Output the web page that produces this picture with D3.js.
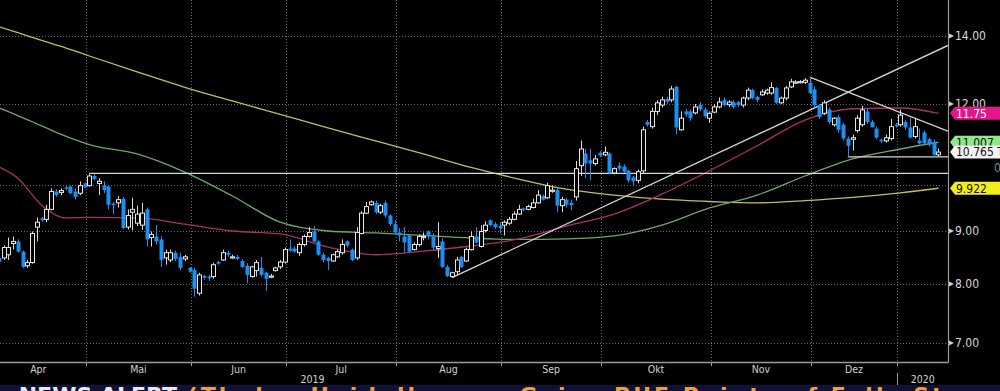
<!DOCTYPE html>
<html>
<head>
<meta charset="utf-8">
<script src="https://cdn.jsdelivr.net/npm/d3@7"></script>
<style>
  body { margin: 0; background: #000; }
  svg { display: block; }
</style>
</head>
<body>
<div id="chart"></div>
<script>
// time axis: months and their trading days (Jan only up to the last candle)
var monthLabels = ["Apr", "Mai", "Jun", "Jul", "Aug", "Sep", "Okt", "Nov", "Dez", ""];
var monthDays = [20, 22, 20, 23, 22, 21, 23, 21, 18, 9];
var yearLabels = ["2019", "2020"];

// daily candles, [open, high, low, close]
var apr = [
  [8.48, 8.54, 8.35, 8.41], [8.48, 8.72, 8.44, 8.68], [8.54, 8.88, 8.44, 8.68], [8.76, 8.90, 8.64, 8.80],
  [8.80, 8.84, 8.58, 8.60], [8.60, 8.62, 8.29, 8.31], [8.33, 8.44, 8.29, 8.39], [8.39, 9.00, 8.37, 8.96],
  [9.09, 9.29, 8.80, 9.19], [9.27, 9.30, 9.20, 9.23], [9.25, 9.56, 9.19, 9.46], [9.46, 9.92, 9.44, 9.85],
  [9.85, 9.90, 9.73, 9.77], [9.83, 9.92, 9.77, 9.87], [9.94, 9.98, 9.88, 9.92], [9.96, 9.98, 9.79, 9.81],
  [9.85, 9.92, 9.67, 9.73], [9.81, 10.08, 9.77, 9.98], [10.03, 10.05, 9.92, 9.94]
];
var mai = [
  [9.98, 10.26, 9.96, 10.20], [10.20, 10.25, 10.10, 10.13], [10.03, 10.15, 9.77, 10.08], [9.98, 10.08, 9.81, 9.88],
  [9.96, 9.98, 9.46, 9.56], [9.58, 9.62, 9.36, 9.55], [9.60, 9.75, 9.50, 9.67], [9.69, 9.73, 9.05, 9.07],
  [9.09, 9.46, 9.04, 9.33], [9.40, 9.71, 9.02, 9.46], [9.17, 9.54, 9.11, 9.36], [9.13, 9.60, 9.03, 9.38],
  [9.46, 9.50, 8.70, 8.84], [8.88, 9.00, 8.70, 8.94], [8.90, 9.13, 8.74, 8.80], [8.84, 8.90, 8.31, 8.44],
  [8.48, 8.64, 8.35, 8.58], [8.44, 8.64, 8.40, 8.58], [8.58, 8.62, 8.42, 8.46], [8.50, 8.58, 8.25, 8.29],
  [8.46, 8.54, 8.42, 8.50], [8.29, 8.31, 8.20, 8.22]
];
var jun = [
  [8.25, 8.29, 7.77, 7.91], [7.83, 8.20, 7.79, 8.16], [8.14, 8.16, 8.07, 8.11], [8.13, 8.16, 8.05, 8.10],
  [8.13, 8.39, 8.09, 8.35], [8.40, 8.42, 8.35, 8.37], [8.44, 8.64, 8.42, 8.58], [8.58, 8.62, 8.50, 8.54],
  [8.48, 8.54, 8.46, 8.50], [8.50, 8.54, 8.44, 8.46], [8.42, 8.46, 8.29, 8.31], [8.33, 8.38, 8.01, 8.16],
  [8.13, 8.33, 8.11, 8.31], [8.24, 8.44, 8.13, 8.39], [8.29, 8.50, 8.13, 8.16], [8.20, 8.22, 7.87, 8.09],
  [8.12, 8.18, 8.10, 8.14], [8.24, 8.31, 8.22, 8.29], [8.31, 8.44, 8.27, 8.40], [8.40, 8.68, 8.37, 8.64]
];
var jul = [
  [8.66, 8.84, 8.60, 8.62], [8.66, 8.70, 8.58, 8.60], [8.58, 8.78, 8.52, 8.74], [8.74, 8.94, 8.70, 8.90],
  [8.90, 9.09, 8.88, 8.98], [9.00, 9.11, 8.78, 8.80], [8.80, 8.82, 8.52, 8.54], [8.54, 8.58, 8.39, 8.44],
  [8.48, 8.50, 8.25, 8.42], [8.42, 8.56, 8.40, 8.54], [8.50, 8.64, 8.48, 8.60], [8.58, 8.84, 8.54, 8.74],
  [8.80, 8.82, 8.68, 8.72], [8.64, 8.66, 8.42, 8.44], [8.48, 9.09, 8.44, 8.98], [8.96, 9.42, 8.94, 9.38],
  [9.38, 9.62, 9.36, 9.52], [9.56, 9.65, 9.54, 9.62], [9.60, 9.65, 9.36, 9.40], [9.40, 9.58, 9.36, 9.54],
  [9.60, 9.65, 9.29, 9.33], [9.33, 9.36, 9.11, 9.15], [9.15, 9.23, 8.94, 8.98]
];
var aug = [
  [8.98, 9.07, 8.80, 8.92], [8.90, 9.09, 8.58, 8.78], [8.92, 8.94, 8.58, 8.60], [8.64, 8.78, 8.62, 8.74],
  [8.74, 8.94, 8.70, 8.90], [8.88, 8.98, 8.82, 8.90], [9.00, 9.02, 8.84, 8.90], [8.90, 8.96, 8.64, 8.68],
  [8.66, 9.19, 8.48, 8.70], [8.80, 8.86, 8.29, 8.31], [8.31, 8.35, 8.12, 8.14], [8.13, 8.22, 8.11, 8.20],
  [8.22, 8.50, 8.16, 8.44], [8.50, 8.52, 8.29, 8.31], [8.42, 8.68, 8.40, 8.64], [8.64, 9.00, 8.62, 8.90],
  [8.90, 9.09, 8.76, 8.78], [8.70, 9.13, 8.68, 9.00], [9.02, 9.21, 8.98, 9.13], [9.23, 9.25, 9.11, 9.13],
  [9.15, 9.19, 9.05, 9.09], [9.11, 9.19, 8.96, 9.07]
];
var sep = [
  [9.13, 9.23, 8.92, 9.19], [9.17, 9.30, 9.13, 9.25], [9.25, 9.42, 9.23, 9.36], [9.36, 9.56, 9.34, 9.46],
  [9.48, 9.50, 9.42, 9.45], [9.46, 9.56, 9.44, 9.52], [9.50, 9.69, 9.48, 9.60], [9.60, 9.88, 9.58, 9.77],
  [9.75, 9.78, 9.65, 9.67], [9.71, 10.05, 9.69, 9.98], [9.86, 9.98, 9.82, 9.88], [9.88, 9.94, 9.40, 9.54],
  [9.54, 9.73, 9.40, 9.67], [9.67, 9.71, 9.50, 9.56], [9.60, 9.67, 9.44, 9.55], [9.73, 10.55, 9.65, 10.37],
  [10.44, 11.05, 10.20, 10.84], [10.73, 10.84, 10.15, 10.49], [10.57, 10.85, 10.10, 10.49], [10.49, 10.69, 10.44, 10.60],
  [10.75, 10.79, 10.64, 10.68]
];
var okt = [
  [10.70, 10.90, 10.66, 10.76], [10.73, 10.76, 10.24, 10.27], [10.27, 10.40, 10.24, 10.37], [10.44, 10.52, 10.32, 10.37],
  [10.42, 10.47, 10.27, 10.30], [10.32, 10.35, 10.05, 10.10], [10.17, 10.20, 9.99, 10.08], [10.10, 10.35, 10.03, 10.30],
  [10.32, 11.40, 10.27, 11.32], [11.52, 11.57, 11.40, 11.45], [11.40, 11.90, 11.35, 11.80], [11.80, 12.10, 11.70, 12.03],
  [11.97, 12.20, 11.90, 12.11], [12.14, 12.20, 12.00, 12.06], [12.11, 12.50, 12.05, 12.41], [12.47, 12.50, 11.20, 11.38],
  [11.32, 11.80, 11.30, 11.62], [11.80, 11.87, 11.65, 11.72], [11.80, 11.85, 11.55, 11.62], [11.76, 12.00, 11.72, 11.92],
  [11.97, 12.05, 11.80, 11.85], [11.85, 11.90, 11.62, 11.67], [11.62, 11.80, 11.50, 11.75]
];
var nov = [
  [11.78, 12.00, 11.75, 11.92], [11.92, 12.18, 11.88, 12.05], [12.11, 12.18, 11.93, 11.97], [11.98, 12.10, 11.92, 12.05],
  [12.05, 12.10, 11.88, 11.92], [12.05, 12.08, 11.92, 11.97], [11.97, 12.20, 11.90, 12.16], [12.16, 12.45, 12.10, 12.38],
  [12.38, 12.42, 12.12, 12.16], [12.19, 12.22, 12.05, 12.11], [12.25, 12.40, 12.22, 12.33], [12.30, 12.42, 12.25, 12.38],
  [12.30, 12.60, 12.25, 12.45], [12.44, 12.47, 12.00, 12.03], [12.03, 12.20, 12.00, 12.16], [12.16, 12.50, 12.10, 12.44],
  [12.47, 12.70, 12.44, 12.61], [12.58, 12.66, 12.55, 12.61], [12.60, 12.66, 12.57, 12.62], [12.60, 12.72, 12.55, 12.66],
  [12.58, 12.75, 12.27, 12.30]
];
var dez = [
  [12.40, 12.48, 11.90, 11.97], [11.97, 12.00, 11.60, 11.65], [11.75, 12.10, 11.70, 12.03], [11.85, 11.90, 11.47, 11.52],
  [11.45, 11.65, 11.40, 11.62], [11.65, 11.70, 11.25, 11.32], [11.45, 11.50, 11.05, 11.10], [11.10, 11.15, 10.65, 10.92],
  [11.08, 11.20, 10.80, 11.12], [11.30, 11.70, 11.25, 11.62], [11.45, 11.95, 11.40, 11.84], [11.80, 11.88, 11.47, 11.52],
  [11.52, 11.57, 11.40, 11.38], [11.35, 11.40, 11.08, 11.12], [11.07, 11.10, 10.98, 11.03], [11.04, 11.20, 11.00, 11.12],
  [11.10, 11.60, 11.05, 11.40], [11.45, 11.50, 11.38, 11.42]
];
var jan = [
  [11.45, 11.85, 11.40, 11.70], [11.52, 11.57, 11.32, 11.38], [11.38, 11.62, 11.10, 11.12], [11.15, 11.60, 11.10, 11.40],
  [11.05, 11.35, 10.95, 10.98], [11.25, 11.30, 10.95, 10.98], [11.08, 11.12, 10.90, 10.95], [11.02, 11.08, 10.65, 10.70],
  [10.70, 10.85, 10.65, 10.765]
];
var candleMonths = [apr, mai, jun, jul, aug, sep, okt, nov, dez, jan];

// price axis
var priceTicks = [7, 8, 9, 12, 14];
var gridTicks = [7, 8, 9, 10, 12, 14];

// moving averages, every few trading days
var maDays = [0, 5, 10, 15, 20, 30, 40, 50, 60, 70, 80, 90, 100, 110, 120, 130, 140, 150, 160, 170, 180, 190, 198];
var maYellow = [14.33, 14.09, 13.85, 13.62, 13.37, 12.90, 12.46, 12.08, 11.72, 11.37, 11.04, 10.72, 10.40, 10.13, 9.90, 9.77, 9.68, 9.63, 9.60, 9.65, 9.72, 9.82, 9.922];
var maGreen = [11.95, 11.69, 11.42, 11.16, 10.95, 10.72, 10.29, 9.75, 9.19, 9.01, 8.97, 8.92, 8.87, 8.84, 8.85, 8.91, 9.13, 9.49, 9.77, 10.20, 10.60, 10.84, 11.007];
var maMagenta = [10.46, 10.15, 9.55, 9.28, 9.29, 9.28, 9.15, 9.01, 8.95, 8.69, 8.54, 8.61, 8.71, 8.85, 9.11, 9.36, 9.79, 10.32, 10.92, 11.57, 11.87, 11.89, 11.75];

// hand-drawn lines, [trading day, price]
var upTrend = [[96, 8.11], [190, 13.02]];
var downTrend = [[171, 12.75], [198, 11.38]];
var resistance = [20, 10.26];
var support = [179, 10.65];

var newsHead = "\u25B8 NEWS ALERT";
var newsText = "(Thales Heidelberger Gains PUF Points of Falls St";

var width = 1000, height = 391,
    axisX = 948, axisY = 362,
    slotW = 4.77;

var svg = d3.select("#chart").append("svg")
    .attr("width", width)
    .attr("height", height)
    .style("background-color", "#000");

var font = "'Liberation Sans Narrow', 'DejaVu Sans Condensed', sans-serif";

var totalDays = d3.sum(monthDays);
var x = d3.scaleLinear().domain([0, totalDays]).range([-9.4, -9.4 + totalDays * slotW]);
var y = d3.scaleLog().domain([6.705, 15.17]).range([axisY, 0]);

// flatten candles onto trading-day slots
var monthStart = [0];
monthDays.forEach(function(d, i) { monthStart.push(monthStart[i] + d); });
var candles = [];
candleMonths.forEach(function(arr, m) {
  var first = monthStart[m] + monthDays[m] - arr.length;
  arr.forEach(function(c, i) {
    candles.push({day: first + i, o: c[0], h: c[1], l: c[2], c: c[3]});
  });
});
function cx(day) { return x(day + 0.5) + 1; }

var defs = svg.append("defs");
defs.append("clipPath").attr("id", "plotclip")
  .append("rect").attr("x", 0).attr("y", 0).attr("width", axisX).attr("height", axisY);
defs.append("clipPath").attr("id", "newsclip")
  .append("rect").attr("x", 0).attr("y", 385).attr("width", width).attr("height", 6);

// grid
var grid = svg.append("g");
grid.selectAll(".hgrid").data(gridTicks).enter().append("line")
    .attr("x1", 0).attr("x2", axisX)
    .attr("y1", function(d) { return Math.round(y(d)) + 0.5; })
    .attr("y2", function(d) { return Math.round(y(d)) + 0.5; })
    .style("stroke", "#6a6a6a").style("stroke-dasharray", "1,2");
grid.selectAll(".vgrid").data(monthStart.slice(1, monthStart.length - 1)).enter().append("line")
    .attr("x1", function(d) { return Math.round(x(d)) + 0.5; })
    .attr("x2", function(d) { return Math.round(x(d)) + 0.5; })
    .attr("y1", 0).attr("y2", axisY)
    .style("stroke", "#6a6a6a").style("stroke-dasharray", "1,2");

var plot = svg.append("g").attr("clip-path", "url(#plotclip)");

// moving averages
function maLine(vals, color) {
  var pts = maDays.map(function(d, i) { return [cx(d), y(vals[i])]; });
  plot.append("path")
    .attr("d", d3.line().curve(d3.curveMonotoneX)(pts))
    .style("fill", "none").style("stroke", color).style("stroke-width", 1.3);
}
maLine(maYellow, "#c2bd62");
maLine(maGreen, "#6fa56a");
maLine(maMagenta, "#a8306a");

// trend lines, extended to the price axis
function extendLine(a, b) {
  var x1 = cx(a[0]), y1 = y(a[1]), x2 = cx(b[0]), y2 = y(b[1]);
  var k = (y2 - y1) / (x2 - x1);
  plot.append("line")
    .attr("x1", x1).attr("y1", y1)
    .attr("x2", axisX).attr("y2", y1 + k * (axisX - x1))
    .style("stroke", "#d6d6d6").style("stroke-width", 1.3);
}
extendLine(upTrend[0], upTrend[1]);
extendLine(downTrend[0], downTrend[1]);
[resistance, support].forEach(function(r) {
  plot.append("line")
    .attr("x1", cx(r[0])).attr("x2", axisX)
    .attr("y1", y(r[1])).attr("y2", y(r[1]))
    .style("stroke", "#d6d6d6").style("stroke-width", 1.3);
});

// candles
var blue = "#1f8ef1";
var cg = plot.append("g").selectAll("g").data(candles).enter().append("g");
cg.append("line")
    .attr("x1", function(d) { return Math.round(cx(d.day)) + 0.5; })
    .attr("x2", function(d) { return Math.round(cx(d.day)) + 0.5; })
    .attr("y1", function(d) { return y(d.h); })
    .attr("y2", function(d) { return y(d.l); })
    .style("stroke", function(d) { return d.c >= d.o ? "#d8d8d8" : blue; })
    .style("stroke-width", 1);
cg.append("rect")
    .attr("x", function(d) { return Math.round(cx(d.day)) - 1.5; })
    .attr("width", 4)
    .attr("y", function(d) { return y(Math.max(d.o, d.c)); })
    .attr("height", function(d) { return Math.max(1.2, Math.abs(y(d.o) - y(d.c))); })
    .style("fill", function(d) { return d.c >= d.o ? "#000" : blue; })
    .style("stroke", function(d) { return d.c >= d.o ? "#e6e6e6" : "none"; })
    .style("stroke-width", 1);

// axes
svg.append("line").attr("x1", 0).attr("x2", axisX + 0.5).attr("y1", axisY + 0.5).attr("y2", axisY + 0.5)
    .style("stroke", "#9a9a9a").style("stroke-width", 1.5);
svg.append("line").attr("x1", axisX + 0.5).attr("x2", axisX + 0.5).attr("y1", 0).attr("y2", axisY + 0.5)
    .style("stroke", "#9a9a9a").style("stroke-width", 1.2);

var yt = svg.append("g").selectAll("g").data(priceTicks).enter().append("g")
    .attr("transform", function(d) { return "translate(" + axisX + "," + Math.round(y(d)) + ")"; });
yt.append("path").attr("d", "M1,-2.5L6,0L1,2.5Z").style("fill", "#d0d0d0");
yt.append("text")
    .attr("x", 7).attr("y", 0).attr("dy", "0.35em")
    .text(function(d) { return d3.format(".2f")(d); })
    .style("fill", "#d8d8d8").style("font-size", "12px").style("font-family", font);

// month ticks and labels
var xt = svg.append("g");
xt.selectAll("line").data(monthStart.slice(1, monthStart.length - 1)).enter().append("line")
    .attr("x1", function(d) { return Math.round(x(d)) + 0.5; })
    .attr("x2", function(d) { return Math.round(x(d)) + 0.5; })
    .attr("y1", axisY).attr("y2", axisY + 4)
    .style("stroke", "#9a9a9a");
xt.selectAll("text").data(monthLabels).enter().append("text")
    .attr("x", function(d, i) { return x(monthStart[i] + monthDays[i] / 2); })
    .attr("y", 373)
    .attr("text-anchor", "middle")
    .text(function(d) { return d; })
    .style("fill", "#d0d0d0").style("font-size", "10.5px").style("font-family", font);

var janStart = Math.round(x(monthStart[9])) + 0.5;
svg.append("line").attr("x1", janStart).attr("x2", janStart).attr("y1", 373).attr("y2", 385)
    .style("stroke", "#9a9a9a");
svg.append("text").attr("x", x(67.5)).attr("y", 383).attr("text-anchor", "middle")
    .text(yearLabels[0]).style("fill", "#d0d0d0").style("font-size", "10.5px").style("font-family", font);
svg.append("text").attr("x", (janStart + axisX) / 2).attr("y", 383).attr("text-anchor", "middle")
    .text(yearLabels[1]).style("fill", "#d0d0d0").style("font-size", "10.5px").style("font-family", font);

// value tags on the price axis
var last = candles[candles.length - 1].c;
var tags = [
  {v: maYellow[maYellow.length - 1], t: "9.922", bg: "#f4ef1a", fg: "#111"},
  {v: maMagenta[maMagenta.length - 1], t: "11.75", bg: "#e5168c", fg: "#fff"},
  {v: maGreen[maGreen.length - 1], t: "11.007", bg: "#8fe88a", fg: "#111"},
  {v: last, t: "10.765 TUI1", bg: "#f4f4f4", fg: "#111"}
];
var tg = svg.append("g").selectAll("g").data(tags).enter().append("g")
    .attr("transform", function(d) { return "translate(0," + y(d.v) + ")"; });
tg.append("path")
    .attr("d", "M950,0L955,-6.5L1000,-6.5L1000,6.5L955,6.5Z")
    .style("fill", function(d) { return d.bg; });
tg.append("text")
    .attr("x", 956).attr("dy", "0.36em")
    .text(function(d) { return d.t; })
    .style("fill", function(d) { return d.fg; })
    .style("font-size", "12px").style("font-family", font);
svg.append("text").attr("x", 994).attr("y", 172).text("0")
    .style("fill", "#8a8a8a").style("font-size", "12px").style("font-family", font);

// news ticker strip at the bottom, only its top edge is in view
var strip = svg.append("g").attr("clip-path", "url(#newsclip)");
strip.append("rect").attr("x", 0).attr("y", 385).attr("width", width).attr("height", 6).style("fill", "#10103a");
var news = strip.append("text").attr("x", 0).attr("y", 403)
    .style("font-size", "22px").style("font-weight", "bold").style("font-family", "'DejaVu Sans', sans-serif");
news.append("tspan").text(newsHead).style("fill", "#e8e8f0");
news.append("tspan").text(" " + newsText).style("fill", "#f0a030").style("letter-spacing", "3px");
</script>
</body>
</html>
